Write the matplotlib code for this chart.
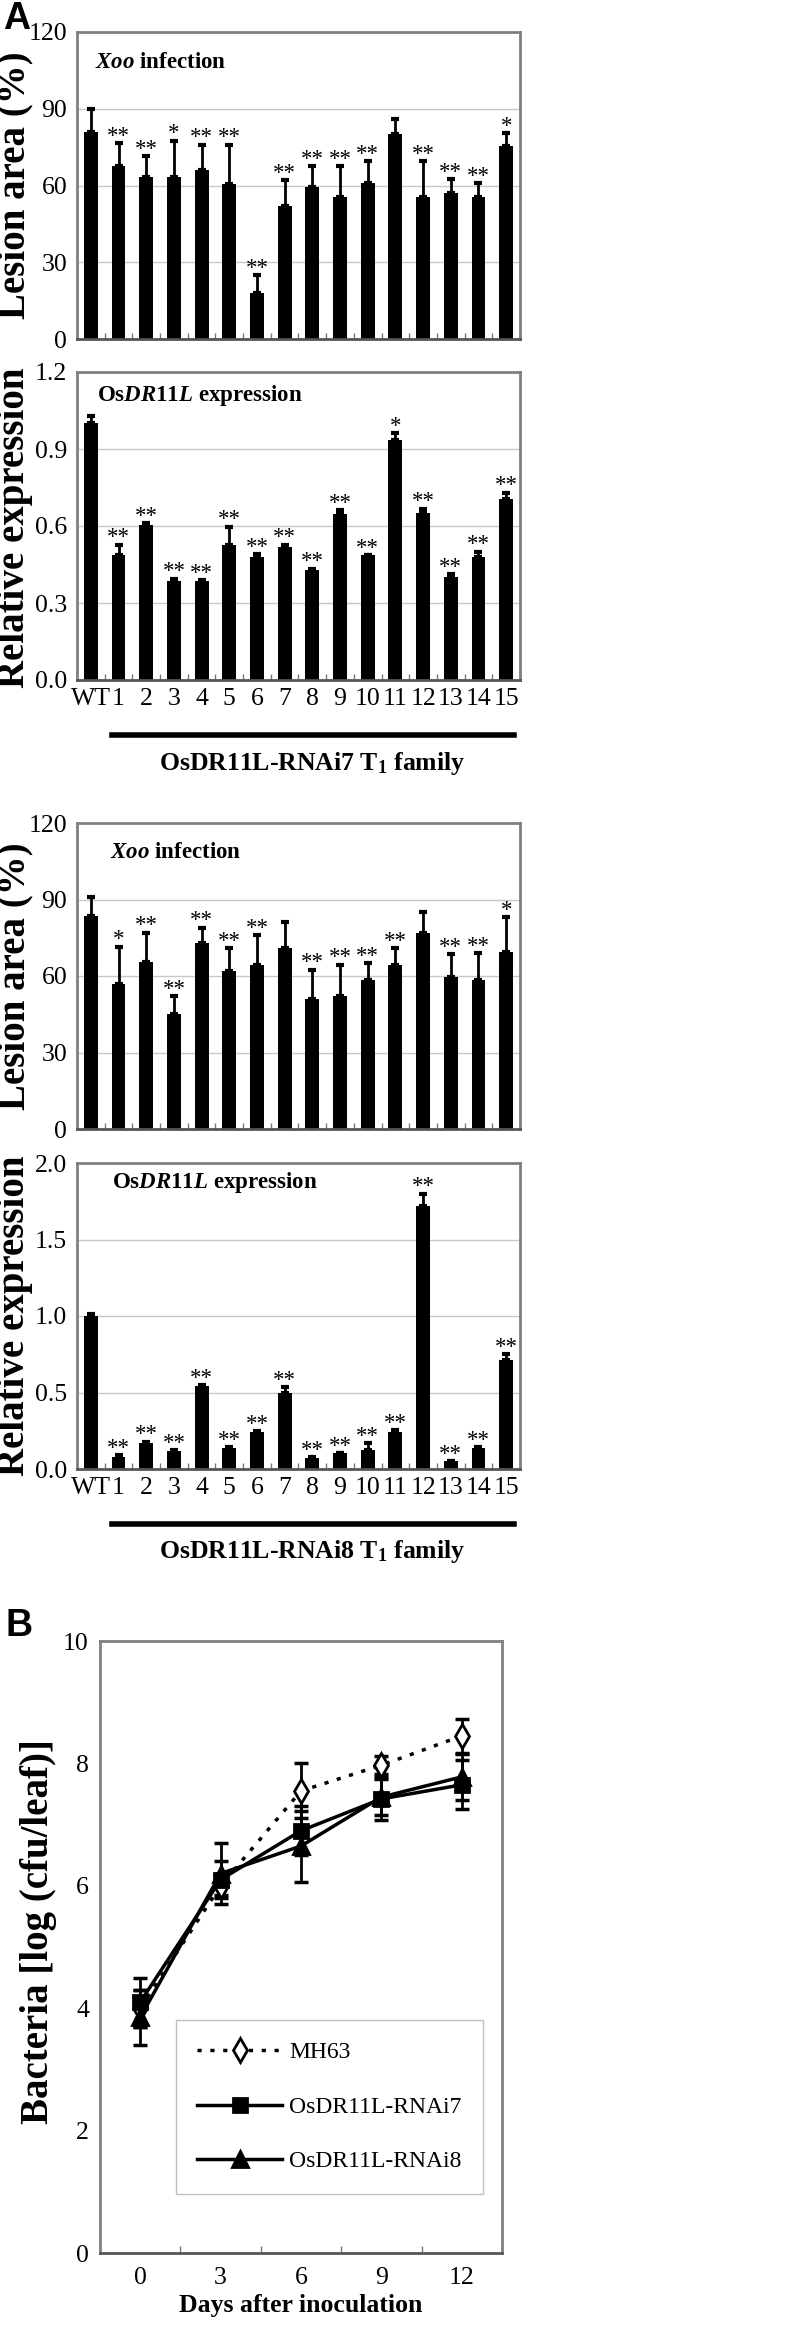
import matplotlib.pyplot as plt
import numpy as np
from matplotlib.ticker import FormatStrFormatter

plt.rcParams['font.family'] = 'Liberation Serif'
plt.rcParams['mathtext.fontset'] = 'custom'
plt.rcParams['mathtext.rm'] = 'Liberation Serif:bold'
plt.rcParams['mathtext.it'] = 'Liberation Serif:italic:bold'
plt.rcParams['mathtext.bf'] = 'Liberation Serif:bold'

# ---- data, panel A ----
lines = ['WT', '1', '2', '3', '4', '5', '6', '7', '8', '9', '10', '11', '12', '13', '14', '15']

les7 = [81, 67.5, 63.5, 63.5, 66, 60.5, 18, 52, 59.5, 55.5, 61, 80, 55.5, 57, 55.5, 75.5]
les7_err = [9, 9, 8, 14, 10, 15.5, 7, 10, 8, 12, 8.5, 6, 14, 5.5, 5.5, 5]
les7_sig = ['', '**', '**', '*', '**', '**', '**', '**', '**', '**', '**', '', '**', '**', '**', '*']

exp7 = [1.0, 0.487, 0.603, 0.386, 0.385, 0.527, 0.48, 0.517, 0.429, 0.646, 0.487, 0.937, 0.652, 0.402, 0.48, 0.705]
exp7_err = [0.03, 0.04, 0.008, 0.008, 0.005, 0.07, 0.01, 0.01, 0.005, 0.015, 0.0, 0.025, 0.015, 0.01, 0.02, 0.025]
exp7_sig = [''] + ['**'] * 10 + ['*'] + ['**'] * 4

les8 = [83.5, 57, 65.5, 45, 73, 62, 64.5, 71, 51, 52, 58.5, 64.5, 77, 59.5, 58.5, 69.5]
les8_err = [7.5, 14.5, 11.5, 7, 6, 9, 11.5, 10, 11.5, 12.5, 6.5, 6.5, 8, 9, 10.5, 13.5]
les8_sig = ['', '*', '**', '**', '**', '**', '**', '', '**', '**', '**', '**', '', '**', '**', '*']

exp8 = [1.0, 0.08, 0.17, 0.118, 0.543, 0.137, 0.242, 0.5, 0.072, 0.104, 0.125, 0.242, 1.72, 0.053, 0.137, 0.71]
exp8_err = [0.015, 0.01, 0.008, 0.005, 0.005, 0.005, 0.005, 0.035, 0.005, 0.0, 0.045, 0.01, 0.08, 0.0, 0.007, 0.04]
exp8_sig = [''] + ['**'] * 15

# ---- data, panel B ----
days = [0, 3, 6, 9, 12]
mh63 = [4.0, 6.0, 7.55, 7.97, 8.45]
mh63_err = [0.3, 0.15, 0.45, 0.15, 0.28]
rnai7 = [4.1, 6.1, 6.9, 7.42, 7.65]
rnai7_err = [0.4, 0.3, 0.4, 0.35, 0.4]
rnai8 = [3.85, 6.2, 6.65, 7.45, 7.78]
rnai8_err = [0.45, 0.5, 0.58, 0.3, 0.38]

W, H = 797, 2344
fig = plt.figure(figsize=(W / 100, H / 100), dpi=100)


def box(l, t, r, b):
    return [l / W, 1 - b / H, (r - l) / W, (b - t) / H]


def frame(ax):
    for sp in ax.spines.values():
        sp.set_color('#808080')
        sp.set_linewidth(2)
    ax.spines['bottom'].set_color('#555555')


def bar_panel(rect, vals, errs, sig, ymax, step, fmt, title, tx, ty):
    ax = fig.add_axes(rect)
    x = np.arange(len(lines))
    ax.bar(x, vals, 0.5, color='black', zorder=2)
    ax.errorbar(x, vals, yerr=[np.zeros(len(errs)), errs], fmt='none', ecolor='black',
                elinewidth=2, capsize=3, capthick=3, zorder=3)
    for xi, v, e, s in zip(x, vals, errs, sig):
        ax.annotate(s, (xi, v + e), xytext=(0, 1), textcoords='offset points',
                    ha='center', va='baseline', fontsize=16.5)
    ax.set_xlim(-0.5, 15.5)
    ax.set_ylim(0, ymax)
    ax.set_yticks(np.arange(0, ymax + step / 2, step))
    ax.yaxis.set_major_formatter(FormatStrFormatter(fmt))
    ax.grid(axis='y', color='#c8c8c8', lw=1)
    ax.set_axisbelow(True)
    ax.tick_params(axis='y', length=0, labelsize=18.5, pad=7)
    ax.set_xticks(x)
    ax.set_xticks(np.arange(-0.5, 16, 1), minor=True)
    ax.tick_params(axis='x', which='major', length=0, labelbottom=False)
    ax.tick_params(axis='x', which='minor', direction='in', length=4, width=1, color='#777777')
    frame(ax)
    ax.text(tx, ty, title, transform=ax.transAxes, fontsize=16.5, fontweight='bold', va='center')
    return ax


def family_labels(ax, text):
    ax.set_xticklabels(lines)
    ax.tick_params(axis='x', which='major', labelbottom=True, labelsize=18.5, pad=6)
    tr = ax.get_xaxis_transform()
    ax.plot([0.75, 15.3], [-0.18, -0.18], color='black', lw=4, transform=tr, clip_on=False)
    ax.text(8.0, -0.27, text, transform=tr, ha='center', va='center',
            fontsize=18.5, fontweight='bold')


ax1 = bar_panel(box(77, 32, 520, 339), les7, les7_err, les7_sig, 120, 30, '%d',
                r'$\mathit{Xoo}$ infection', 0.04, 0.90)
ax2 = bar_panel(box(77, 372, 520, 680), exp7, exp7_err, exp7_sig, 1.2, 0.3, '%.1f',
                r'Os$\mathit{DR11L}$ expression', 0.045, 0.925)
family_labels(ax2, r'OsDR11L-RNAi7 T$_1$ family')

ax3 = bar_panel(box(77, 823, 520, 1129), les8, les8_err, les8_sig, 120, 30, '%d',
                r'$\mathit{Xoo}$ infection', 0.075, 0.905)
ax4 = bar_panel(box(77, 1163, 520, 1469), exp8, exp8_err, exp8_sig, 2.0, 0.5, '%.1f',
                r'Os$\mathit{DR11L}$ expression', 0.08, 0.935)
family_labels(ax4, r'OsDR11L-RNAi8 T$_1$ family')

for yc, lab in [(185, 'Lesion area (%)'), (528, 'Relative expression'),
                (976, 'Lesion area (%)'), (1316, 'Relative expression')]:
    fig.text(15 / W, 1 - yc / H, lab, rotation=90, ha='center', va='center',
             fontsize=28, fontweight='bold')

# ---- panel B ----
axb = fig.add_axes(box(100, 1641, 502, 2253))
styles = [(mh63, mh63_err, 'MH63', (0, (1.2, 2.5)), 'd', 'white', 12),
          (rnai7, rnai7_err, 'OsDR11L-RNAi7', '-', 's', 'black', 10),
          (rnai8, rnai8_err, 'OsDR11L-RNAi8', '-', '^', 'black', 11)]
handles = []
for vals, errs, lab, ls, mk, mfc, ms in styles:
    axb.errorbar(days, vals, yerr=errs, fmt='none', ecolor='black', elinewidth=2,
                 capsize=5, capthick=2.5, zorder=3)
    h, = axb.plot(days, vals, ls=ls, color='black', lw=2.5, marker=mk, mfc=mfc,
                  mec='black', mew=2, ms=ms, zorder=4, label=lab)
    handles.append(h)
axb.set_xlim(-1.5, 13.5)
axb.set_ylim(0, 10)
axb.set_yticks(np.arange(0, 11, 2))
axb.set_xticks(days)
axb.set_xticks([-1.5, 1.5, 4.5, 7.5, 10.5, 13.5], minor=True)
axb.tick_params(axis='y', length=0, labelsize=18.5, pad=8)
axb.tick_params(axis='x', which='major', length=0, labelsize=18.5, pad=10)
axb.tick_params(axis='x', which='minor', direction='in', length=5, width=1, color='#777777')
frame(axb)
axb.set_xlabel('Days after inoculation', fontsize=18.5, fontweight='bold', labelpad=4)
leg = axb.legend(handles=handles, loc='center', bbox_to_anchor=(0.231, 0.085, 0.679, 0.307),
                 fontsize=17, frameon=True, fancybox=False, edgecolor='#b0b0b0',
                 handlelength=3.6, handletextpad=0.3, labelspacing=1.4, borderpad=0.9)
leg.get_frame().set_linewidth(1)
fig.text(39 / W, 1 - 1932 / H, 'Bacteria [log (cfu/leaf)]', rotation=90, ha='center',
         va='center', fontsize=28, fontweight='bold')

fig.text(17 / W, 1 - 19 / H, 'A', family='Liberation Sans', fontsize=27, fontweight='bold',
         ha='center', va='center')
fig.text(19 / W, 1 - 1626 / H, 'B', family='Liberation Sans', fontsize=27, fontweight='bold',
         ha='center', va='center')

fig.savefig('out.png', dpi=100)
